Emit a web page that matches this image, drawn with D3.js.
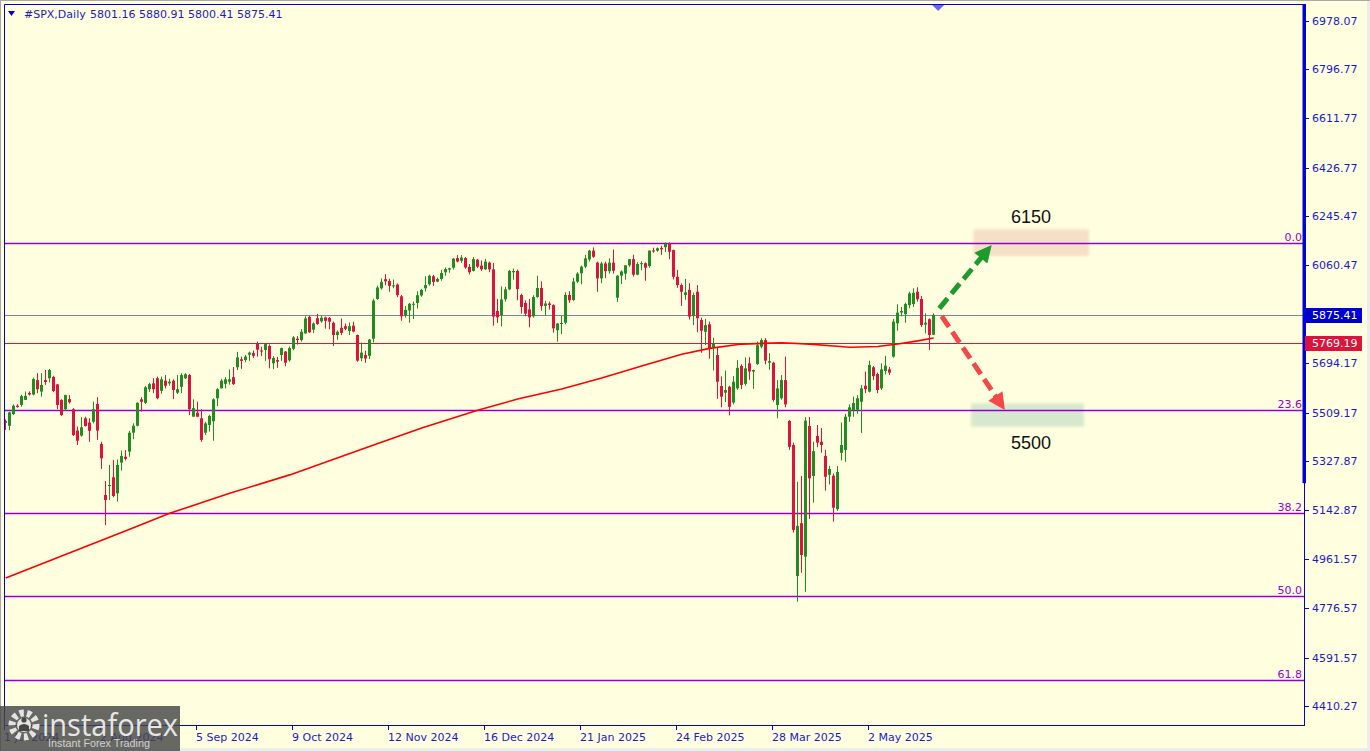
<!DOCTYPE html>
<html><head><meta charset="utf-8">
<script src="https://cdn.jsdelivr.net/npm/d3@7"></script>
<style>html,body{margin:0;padding:0;background:#fff}svg{display:block}</style>
</head><body>
<svg id="chart" width="1370" height="751"></svg>
<script>
// ---------- DATA ----------
const symbolTitle = "#SPX,Daily";
const lastOHLC = ["5801.16", "5880.91", "5800.41", "5875.41"];

const open = [5478,5460,5504,5535,5538,5557,5583,5577,5631,5588,
5631,5638,5643,5615,5557,5522,5560,5522,5442,5423,
5488,5472,5475,5542,5392,5201,5234,5267,5207,5322,
5344,5363,5434,5460,5559,5546,5597,5619,5638,5591,
5629,5619,5629,5584,5606,5638,5650,5494,5509,5488,
5434,5463,5477,5563,5600,5617,5625,5642,5679,5709,
5706,5726,5732,5769,5742,5744,5759,5694,5706,5725,
5738,5705,5748,5786,5781,5806,5868,5820,5863,5851,
5866,5864,5846,5800,5827,5833,5815,5835,5800,5713,
5725,5722,5786,5935,5975,6009,6002,5985,5989,5945,
5874,5892,5915,5920,5948,5975,5990,6020,6000,6010,
6035,6045,6052,6088,6078,6088,6055,6040,6082,6060,
6046,6071,6046,5890,5875,5934,5971,6035,6040,5950,
5920,5896,5870,5942,5976,5909,5918,5912,5818,5843,
5846,5950,5931,6000,6031,6056,6083,6116,6071,6012,
6068,6039,6071,5940,6022,6030,6061,6084,6026,6066,
6069,6058,6117,6116,6126,6129,6143,6118,6018,5987,
5950,5969,5871,5962,5856,5812,5840,5754,5725,5609,
5584,5606,5547,5600,5684,5617,5694,5663,5691,5756,
5781,5696,5696,5538,5563,5631,5478,5388,4897,5095,
4970,5459,5272,5422,5400,5347,5276,5273,5148,5359,
5369,5494,5519,5520,5550,5610,5588,5679,5654,5600,
5665,5671,5719,5844,5884,5878,5912,5916,5962,5935,
5839,5859,5801.16];

const high = [5484,5512,5540,5541,5576,5588,5589,5641,5657,5657,
5669,5673,5647,5617,5559,5576,5575,5526,5457,5492,
5494,5488,5550,5567,5400,5253,5313,5332,5334,5367,
5369,5441,5469,5548,5567,5609,5621,5638,5644,5644,
5650,5636,5634,5650,5657,5657,5654,5559,5550,5522,
5475,5501,5563,5601,5636,5642,5671,5680,5737,5719,
5725,5738,5742,5775,5756,5768,5765,5721,5718,5753,
5740,5757,5796,5796,5822,5870,5872,5847,5879,5872,
5869,5867,5850,5817,5862,5843,5847,5850,5802,5772,
5741,5785,5936,5985,6012,6028,6011,6008,5993,5950,
5909,5920,5925,5964,5973,6020,6026,6025,6015,6044,
6053,6052,6088,6100,6099,6092,6066,6092,6085,6079,
6085,6075,6070,5935,5982,5980,6044,6049,6045,5955,
5930,5935,5949,6022,6001,5928,5925,5915,5845,5871,
5960,5964,6014,6035,6060,6100,6119,6128,6075,6074,
6075,6087,6120,6025,6042,6062,6085,6101,6074,6076,
6072,6117,6127,6128,6134,6147,6147,6120,6044,5993,
6010,5994,5959,5987,5865,5860,5850,5790,5752,5645,
5667,5610,5646,5706,5690,5716,5717,5670,5775,5788,
5788,5732,5700,5631,5650,5719,5481,5397,5250,5272,
5492,5493,5400,5463,5451,5370,5310,5281,5309,5472,
5504,5540,5569,5575,5613,5663,5704,5684,5659,5694,
5722,5680,5860,5915,5905,5921,5962,5975,5979,5946,
5881,5862,5880.91];

const low = [5444,5443,5500,5528,5531,5556,5573,5574,5582,5569,
5613,5622,5586,5522,5497,5515,5543,5422,5388,5419,
5457,5400,5469,5407,5298,5088,5182,5192,5176,5292,
5330,5344,5410,5458,5513,5542,5587,5582,5559,5580,
5600,5610,5560,5579,5582,5635,5500,5494,5492,5400,
5425,5438,5404,5534,5600,5600,5614,5613,5669,5673,
5698,5703,5714,5719,5721,5703,5675,5672,5677,5703,
5683,5700,5743,5764,5775,5805,5808,5807,5838,5846,
5824,5821,5759,5782,5800,5818,5800,5810,5700,5702,
5696,5710,5772,5932,5970,5986,5962,5975,5942,5853,
5865,5846,5860,5899,5943,5963,5985,5984,5998,6003,
6022,6033,6045,6072,6070,6048,6027,6038,6051,6040,
6044,6035,5835,5845,5832,5925,5968,6007,5930,5880,
5870,5829,5865,5940,5891,5874,5895,5809,5775,5803,
5840,5920,5928,5995,5990,6050,6075,6089,5962,5994,
6013,6030,6030,5924,5991,6007,6055,6019,6024,6042,
6003,6052,6108,6112,6100,6111,6084,6008,5977,5909,
5932,5858,5837,5810,5733,5762,5711,5667,5561,5529,
5549,5499,5540,5595,5597,5610,5632,5598,5688,5750,
5690,5670,5550,5488,5558,5529,5370,5060,4801,4909,
4838,5111,5172,5380,5359,5217,5240,5101,5141,5330,
5325,5475,5494,5505,5433,5582,5585,5631,5582,5594,
5652,5650,5715,5816,5870,5846,5900,5905,5925,5830,
5806,5744,5800.41];

const close = [5471,5510,5535,5530,5571,5572,5577,5635,5597,5613,
5624,5669,5590,5538,5500,5575,5548,5425,5404,5454,
5459,5441,5522,5442,5338,5182,5238,5197,5313,5347,
5336,5434,5460,5546,5550,5604,5616,5597,5563,5634,
5610,5625,5594,5597,5650,5653,5522,5526,5494,5407,
5469,5497,5559,5597,5629,5634,5634,5616,5716,5703,
5719,5734,5722,5745,5738,5766,5709,5714,5700,5751,
5696,5751,5791,5781,5812,5862,5810,5843,5841,5865,
5853,5850,5800,5812,5808,5823,5833,5813,5704,5734,
5712,5783,5929,5978,5999,6001,5984,5986,5949,5870,
5894,5917,5917,5949,5969,5987,6022,5999,6010,6032,
6047,6050,6086,6075,6090,6053,6035,6084,6056,6046,
6075,6046,5869,5866,5933,5971,6040,6040,5972,5905,
5880,5866,5942,5976,5909,5918,5912,5825,5843,5845,
5950,5930,6000,6030,6056,6087,6116,6093,6012,6068,
6039,6071,6041,6022,6038,6061,6084,6026,6066,6069,
6052,6116,6113,6125,6121,6141,6112,6018,5987,5962,
5960,5869,5950,5863,5816,5837,5750,5769,5625,5569,
5594,5531,5625,5677,5613,5675,5663,5669,5762,5781,
5704,5702,5557,5600,5631,5540,5381,5070,5085,4976,
5479,5263,5365,5397,5388,5269,5298,5153,5287,5388,
5494,5529,5545,5563,5600,5597,5688,5646,5594,5671,
5685,5659,5850,5884,5890,5916,5956,5958,5934,5837,
5846,5800,5875.41];

// Moving average (bar index, value)
const maBars   = [0, 31, 41, 56, 71, 89, 104, 118, 128, 139, 149, 159, 169, 176, 184, 194, 201, 207, 211, 218, 223, 228, 232];
const maValues = [4890, 5072, 5132, 5207, 5276, 5372, 5452, 5518, 5560, 5598, 5639, 5684, 5728, 5750, 5766, 5771, 5766, 5759, 5754, 5757, 5766, 5778, 5789];

const dateTickBars   = [0, 24, 48, 72, 96, 120, 144, 168, 192, 216];
const dateTickLabels = ["1 Jul 2024", "2 Aug 2024", "5 Sep 2024", "9 Oct 2024", "12 Nov 2024", "16 Dec 2024", "21 Jan 2025", "24 Feb 2025", "28 Mar 2025", "2 May 2025"];

const priceTicks = [6978.07, 6796.77, 6611.77, 6426.77, 6245.47, 6060.47, 5694.17, 5509.17, 5327.87, 5142.87, 4961.57, 4776.57, 4591.57, 4410.27];

const fibPrices = [6143.5, 5519, 5133, 4821, 4509];
const fibLabels = ["0.0", "23.6", "38.2", "50.0", "61.8"];

const bidPrice = 5875.41;
const maLinePrice = 5769.19;

// Forecast annotation
const targetLabels   = ["6150", "5500"];
const targetTop      = [6196, 5544];
const targetBottom   = [6096, 5456];
const targetBarStart = [241.9, 241.3];
const targetBarEnd   = [270.8, 269.6];
const targetTextBar  = [256.3, 256.3];
const targetTextPrice= [6243, 5396];
const arrowFromBar   = [233.4, 234.0];
const arrowFromPrice = [5900, 5871];
const arrowToBar     = [246.5, 249.8];
const arrowToPrice   = [6137, 5519];
const arrowColors    = ["#1f9a2c", "#f24848"];
const boxColors      = ["#f5dfc6", "#d8e8cc"];

// ---------- CHART ----------
const W = 1370, H = 751;
const L = 4, R = 1304, T = 4, B = 725;
const svg = d3.select("#chart");
const defs = svg.append("defs");
defs.append("clipPath").attr("id", "plotclip").append("rect")
  .attr("x", L + 0.5).attr("y", T + 0.5).attr("width", R - L).attr("height", B - T);
const blur = defs.append("filter").attr("id", "soft").attr("x", "-10%").attr("y", "-30%").attr("width", "120%").attr("height", "160%");
blur.append("feGaussianBlur").attr("stdDeviation", 1.6);

const x = d3.scaleLinear().domain([-0.425, 324.575]).range([L, R]);
const y = d3.scaleLinear().domain([4339.1, 7039.9]).range([B, T]);
const FONT = "DejaVu Sans, Verdana, sans-serif";
const axisBlue = "#0000dd";
const textBlue = "#1a1acc";

svg.append("rect").attr("width", W).attr("height", H).attr("fill", "#FFFFE0");
svg.append("rect").attr("x", 0).attr("y", 748).attr("width", W).attr("height", 3).attr("fill", "#ececec");
svg.append("rect").attr("x", 1367).attr("y", 0).attr("width", 3).attr("height", H).attr("fill", "#ececec");
svg.append("line").attr("x1", 0).attr("x2", W).attr("y1", 0.5).attr("y2", 0.5).attr("stroke", "#a8a8a8");
svg.append("line").attr("x1", 0.5).attr("x2", 0.5).attr("y1", 0).attr("y2", H).attr("stroke", "#a8a8a8");

const plot = svg.append("g").attr("clip-path", "url(#plotclip)");

// target boxes
plot.selectAll("rect.target").data(targetLabels).join("rect").attr("class", "target")
  .attr("x", (d, i) => x(targetBarStart[i]))
  .attr("width", (d, i) => x(targetBarEnd[i]) - x(targetBarStart[i]))
  .attr("y", (d, i) => y(targetTop[i]))
  .attr("height", (d, i) => y(targetBottom[i]) - y(targetTop[i]))
  .attr("fill", (d, i) => boxColors[i])
  .attr("filter", "url(#soft)");

const crisp = v => Math.round(v) + 0.5;

// fib lines
plot.selectAll("line.fib").data(fibPrices).join("line").attr("class", "fib")
  .attr("x1", L).attr("x2", R)
  .attr("y1", d => crisp(y(d))).attr("y2", d => crisp(y(d)))
  .attr("stroke", "#9400d3").attr("stroke-width", 1.3);
plot.selectAll("text.fib").data(fibLabels).join("text").attr("class", "fib")
  .attr("x", R - 2).attr("y", (d, i) => crisp(y(fibPrices[i])) - 2.5)
  .attr("text-anchor", "end").attr("font-family", FONT).attr("font-size", 11)
  .attr("fill", "#9400d3").text(d => d);

// bid & MA horizontal lines
plot.append("line").attr("x1", L).attr("x2", R)
  .attr("y1", crisp(y(bidPrice))).attr("y2", crisp(y(bidPrice)))
  .attr("stroke", "#778899").attr("stroke-width", 1);
plot.append("line").attr("x1", L).attr("x2", R)
  .attr("y1", crisp(y(maLinePrice))).attr("y2", crisp(y(maLinePrice)))
  .attr("stroke", "#e0143c").attr("stroke-width", 1);

// candles
const up = "#228b22", dn = "#dc143c";
const bars = d3.range(close.length);
const cg = plot.append("g");
cg.selectAll("line.wick").data(bars).join("line").attr("class", "wick")
  .attr("x1", i => Math.floor(x(i)) + 0.5).attr("x2", i => Math.floor(x(i)) + 0.5)
  .attr("y1", i => y(high[i])).attr("y2", i => y(low[i]))
  .attr("stroke", i => close[i] >= open[i] ? up : dn).attr("stroke-width", 1);
cg.selectAll("rect.body").data(bars).join("rect").attr("class", "body")
  .attr("x", i => Math.floor(x(i)) - 1).attr("width", 3)
  .attr("y", i => y(Math.max(open[i], close[i])))
  .attr("height", i => Math.max(1, Math.abs(y(open[i]) - y(close[i]))))
  .attr("fill", i => close[i] >= open[i] ? up : dn);

// moving average
plot.append("path").datum(maBars)
  .attr("d", d3.line().x(i => x(i)).y((d, k) => y(maValues[k])))
  .attr("fill", "none").attr("stroke", "#ff0000").attr("stroke-width", 1.6);

// arrows
arrowColors.forEach((c, i) => {
  defs.append("marker").attr("id", "ah" + i)
    .attr("viewBox", "0 0 10 10").attr("refX", 10).attr("refY", 5)
    .attr("markerWidth", 18).attr("markerHeight", 17).attr("markerUnits", "userSpaceOnUse")
    .attr("orient", "auto")
    .append("path").attr("d", "M0,0 L10,5 L0,10 Z").attr("fill", c);
});
svg.selectAll("g.arrow").data(arrowColors).join("g").attr("class", "arrow").each(function (c, i) {
  const x0 = x(arrowFromBar[i]), y0 = y(arrowFromPrice[i]);
  const x1 = x(arrowToBar[i]), y1 = y(arrowToPrice[i]);
  const len = Math.hypot(x1 - x0, y1 - y0);
  const ux = (x1 - x0) / len, uy = (y1 - y0) / len;
  const g = d3.select(this);
  g.append("line").attr("x1", x0).attr("y1", y0)
    .attr("x2", x1 - ux * 12).attr("y2", y1 - uy * 12)
    .attr("stroke", c).attr("stroke-width", 5).attr("stroke-dasharray", "13,6");
  g.append("line").attr("x1", x1 - ux * 14).attr("y1", y1 - uy * 14)
    .attr("x2", x1).attr("y2", y1)
    .attr("stroke", "none").attr("marker-end", "url(#ah" + i + ")");
});

// target texts
svg.selectAll("text.tgt").data(targetLabels).join("text").attr("class", "tgt")
  .attr("x", (d, i) => x(targetTextBar[i])).attr("y", (d, i) => y(targetTextPrice[i]))
  .attr("dy", "0.36em").attr("text-anchor", "middle")
  .attr("font-family", "Liberation Sans, Arial, sans-serif").attr("font-size", 18)
  .attr("fill", "#111").text(d => d);

// frame
svg.append("line").attr("x1", L + 0.5).attr("x2", R + 0.5).attr("y1", T + 0.5).attr("y2", T + 0.5).attr("stroke", axisBlue);
svg.append("line").attr("x1", L + 0.5).attr("x2", L + 0.5).attr("y1", T + 0.5).attr("y2", B + 0.5).attr("stroke", axisBlue);
svg.append("line").attr("x1", L + 0.5).attr("x2", R + 1).attr("y1", B + 0.5).attr("y2", B + 0.5).attr("stroke", axisBlue);
svg.append("line").attr("x1", R + 0.5).attr("x2", R + 0.5).attr("y1", T + 0.5).attr("y2", B + 0.5).attr("stroke", axisBlue);
svg.append("rect").attr("x", R - 1.5).attr("y", T).attr("width", 3.5)
  .attr("height", y(5245) - T).attr("fill", axisBlue);

// shift marker
const mx = x(233.1);
svg.append("path").attr("d", `M${mx - 6},${T + 1} L${mx + 6},${T + 1} L${mx},${T + 7} Z`).attr("fill", "#6b6bd6");

// price axis
const pa = svg.append("g");
pa.selectAll("line").data(priceTicks).join("line")
  .attr("x1", R + 1).attr("x2", R + 5).attr("y1", d => crisp(y(d))).attr("y2", d => crisp(y(d)))
  .attr("stroke", axisBlue);
pa.selectAll("text").data(priceTicks).join("text")
  .attr("x", R + 8).attr("y", d => crisp(y(d))).attr("dy", "0.36em")
  .attr("font-family", FONT).attr("font-size", 11).attr("fill", textBlue)
  .text(d => d.toFixed(2));

// price tags
[[bidPrice, "#0000cd"], [maLinePrice, "#dc143c"]].forEach(([p, c]) => {
  const yy = crisp(y(p));
  svg.append("rect").attr("x", R + 1).attr("y", yy - 7.5).attr("width", 57).attr("height", 15).attr("fill", c);
  svg.append("text").attr("x", R + 8).attr("y", yy).attr("dy", "0.36em")
    .attr("font-family", FONT).attr("font-size", 11).attr("fill", "#fff").text(p.toFixed(2));
});

// date axis
const da = svg.append("g");
da.selectAll("line").data(dateTickBars).join("line")
  .attr("x1", d => Math.floor(x(d)) - 0.5).attr("x2", d => Math.floor(x(d)) - 0.5)
  .attr("y1", B + 1).attr("y2", B + 5).attr("stroke", axisBlue);
da.selectAll("text").data(dateTickLabels).join("text")
  .attr("x", (d, i) => Math.floor(x(dateTickBars[i])) - 1).attr("y", 741)
  .attr("font-family", FONT).attr("font-size", 11).attr("fill", textBlue).text(d => d);

// header
svg.append("path").attr("d", "M8,11 L15,11 L11.5,16 Z").attr("fill", "#0000cc");
svg.append("text").attr("x", 24).attr("y", 18).attr("font-family", FONT).attr("font-size", 11)
  .attr("fill", textBlue).text(symbolTitle);
svg.append("text").attr("x", 90).attr("y", 18).attr("font-family", FONT).attr("font-size", 11)
  .attr("fill", textBlue).text(lastOHLC.join(" "));

// watermark logo (drawn over the first date labels, as in the original)
const logo = svg.append("g");
logo.append("rect").attr("x", 0).attr("y", 706).attr("width", 180).attr("height", 45)
  .attr("fill", "#474747").attr("opacity", 0.82);
logo.append("circle").attr("cx", 24).attr("cy", 725).attr("r", 12)
  .attr("fill", "none").attr("stroke", "#e4e4e4").attr("stroke-width", 7).attr("stroke-dasharray", "4.2,3.2");
logo.append("circle").attr("cx", 24).attr("cy", 725).attr("r", 7).attr("fill", "#e4e4e4");
logo.append("circle").attr("cx", 24).attr("cy", 720).attr("r", 2.6).attr("fill", "#474747");
logo.append("path").attr("d", "M19,731 L19,726 Q24,722 29,726 L29,731 Z").attr("fill", "#474747");
logo.append("text").attr("x", 42).attr("y", 736).attr("font-family", "Open Sans, Lato, sans-serif")
  .attr("font-size", 31).attr("fill", "#e6e6e6").attr("textLength", 136).attr("lengthAdjust", "spacingAndGlyphs")
  .text("instaforex");
logo.append("text").attr("x", 48).attr("y", 747).attr("font-family", "Liberation Sans, Arial, sans-serif")
  .attr("font-size", 11).attr("fill", "#d0d0d0").attr("textLength", 102).attr("lengthAdjust", "spacingAndGlyphs")
  .text("Instant Forex Trading");
</script>
</body></html>
